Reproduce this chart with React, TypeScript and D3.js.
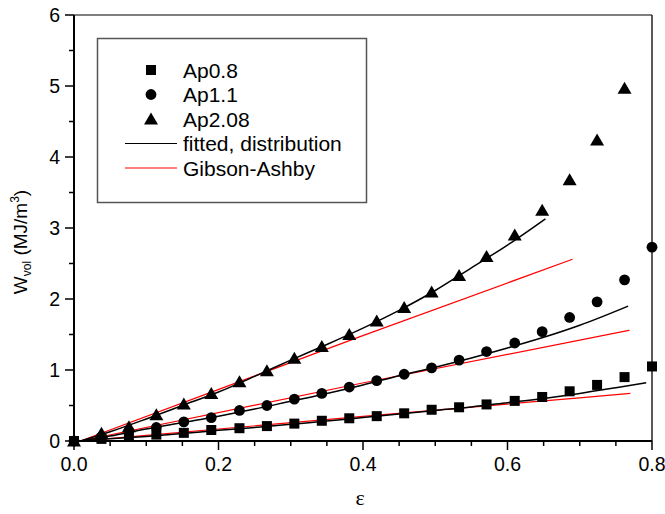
import React from "react";
import * as d3 from "d3";

// strain values of the measured points
const strain = [
  0, 0.038, 0.076, 0.114, 0.152, 0.19, 0.229, 0.267, 0.305, 0.343, 0.381,
  0.419, 0.457, 0.495, 0.533, 0.571, 0.61, 0.648, 0.686, 0.724, 0.762, 0.8,
];

// measured W_vol (MJ/m^3)
const ap08 = [
  0, 0.03, 0.06, 0.09, 0.115, 0.155, 0.18, 0.21, 0.245, 0.285, 0.32, 0.35,
  0.39, 0.44, 0.475, 0.515, 0.565, 0.62, 0.7, 0.79, 0.9, 1.05,
];
const ap11 = [
  0, 0.06, 0.14, 0.19, 0.27, 0.33, 0.43, 0.5, 0.59, 0.67, 0.76, 0.85, 0.94,
  1.03, 1.14, 1.26, 1.38, 1.54, 1.74, 1.96, 2.27, 2.73,
];
const ap208 = [
  0, 0.11, 0.2, 0.37, 0.52, 0.67, 0.835, 0.99, 1.165, 1.33, 1.5, 1.69, 1.88,
  2.1, 2.33, 2.6, 2.9, 3.25, 3.68, 4.24, 4.97,
];

// fitted, distribution curves [strain, W]
const fit08: [number, number][] = [
  [0.009, 0], [0.05, 0.03], [0.1, 0.065], [0.15, 0.105], [0.2, 0.15],
  [0.25, 0.19], [0.3, 0.235], [0.35, 0.28], [0.4, 0.33], [0.45, 0.38],
  [0.5, 0.43], [0.55, 0.48], [0.6, 0.54], [0.65, 0.6], [0.7, 0.67],
  [0.75, 0.75], [0.792, 0.82],
];
const fit11: [number, number][] = [
  [0.009, 0], [0.05, 0.07], [0.1, 0.17], [0.15, 0.26], [0.2, 0.35],
  [0.25, 0.45], [0.3, 0.56], [0.35, 0.67], [0.4, 0.79], [0.45, 0.92],
  [0.5, 1.04], [0.55, 1.17], [0.6, 1.31], [0.65, 1.46], [0.7, 1.63],
  [0.767, 1.9],
];
const fit208: [number, number][] = [
  [0.009, 0], [0.05, 0.13], [0.1, 0.31], [0.15, 0.5], [0.2, 0.69],
  [0.25, 0.91], [0.3, 1.14], [0.35, 1.36], [0.4, 1.59], [0.45, 1.84],
  [0.5, 2.12], [0.55, 2.44], [0.6, 2.76], [0.6525, 3.13],
];

// Gibson-Ashby lines
const ga08: [number, number][] = [[0.009, 0], [0.396, 0.342], [0.77, 0.67]];
const ga11: [number, number][] = [[0.009, 0], [0.396, 0.81], [0.769, 1.56]];
const ga208: [number, number][] = [[0.009, 0], [0.396, 1.47], [0.69, 2.56]];

const xTicks = [0, 0.2, 0.4, 0.6, 0.8];
const yTicks = [0, 1, 2, 3, 4, 5, 6];

const W = 665;
const H = 514;
const left = 74;
const right = 652;
const top = 15;
const bottom = 441;
const sans = "Arial, 'Liberation Sans', sans-serif";

export default function App() {
  const x = d3.scaleLinear().domain([0, 0.8]).range([left, right]);
  const y = d3.scaleLinear().domain([0, 6]).range([bottom, top]);
  const line = d3
    .line<[number, number]>()
    .x((d) => x(d[0]))
    .y((d) => y(d[1]))
    .curve(d3.curveMonotoneX);

  const xMinor = d3.range(0, 0.8001, 0.05);
  const yMinor = d3.range(0, 6.001, 0.5);

  const square = (cx: number, cy: number, k: string) => (
    <rect key={k} x={cx - 5} y={cy - 5} width={10} height={10} fill="#000" />
  );
  const circle = (cx: number, cy: number, k: string) => (
    <circle key={k} cx={cx} cy={cy} r={5.4} fill="#000" />
  );
  const tri = (cx: number, cy: number, k: string) => (
    <path
      key={k}
      d={`M${cx},${cy - 6.5}L${cx + 7},${cy + 5.5}L${cx - 7},${cy + 5.5}Z`}
      fill="#000"
    />
  );

  const legendRows = [
    { label: "Ap0.8", kind: "sq" },
    { label: "Ap1.1", kind: "ci" },
    { label: "Ap2.08", kind: "tr" },
    { label: "fitted, distribution", kind: "black" },
    { label: "Gibson-Ashby", kind: "red" },
  ];

  return (
    <svg
      width={W}
      height={H}
      style={{ position: "absolute", left: 0, top: 0, background: "#fff" }}
    >
      {/* frame */}
      <line x1={left} y1={top} x2={right} y2={top} stroke="#555" strokeWidth={1.5} />
      <line x1={right} y1={top} x2={right} y2={bottom} stroke="#222" strokeWidth={1.5} />

      {/* Gibson-Ashby */}
      {[ga08, ga11, ga208].map((d, i) => (
        <path key={"ga" + i} d={line(d) || ""} fill="none" stroke="#ff0000" strokeWidth={1.2} />
      ))}
      {/* fitted */}
      {[fit08, fit11, fit208].map((d, i) => (
        <path key={"fit" + i} d={line(d) || ""} fill="none" stroke="#000" strokeWidth={1.5} />
      ))}

      {/* points */}
      {ap08.map((v, i) => square(x(strain[i]), y(v), "s" + i))}
      {ap11.map((v, i) => circle(x(strain[i]), y(v), "c" + i))}
      {ap208.map((v, i) => tri(x(strain[i]), y(v), "t" + i))}

      {/* axes */}
      <line x1={left} y1={bottom} x2={right} y2={bottom} stroke="#000" strokeWidth={2} />
      <line x1={left} y1={top} x2={left} y2={bottom} stroke="#000" strokeWidth={2} />
      {xMinor.map((t, i) => (
        <line
          key={"xt" + i}
          x1={x(t)}
          x2={x(t)}
          y1={bottom}
          y2={bottom + (i % 4 === 0 ? 9 : 5)}
          stroke="#000"
          strokeWidth={1.5}
        />
      ))}
      {yMinor.map((t, i) => (
        <line
          key={"yt" + i}
          x1={left}
          x2={left - (i % 2 === 0 ? 9 : 5)}
          y1={y(t)}
          y2={y(t)}
          stroke="#000"
          strokeWidth={1.5}
        />
      ))}
      {xTicks.map((t) => (
        <text
          key={"xl" + t}
          x={x(t)}
          y={471}
          textAnchor="middle"
          fontFamily={sans}
          fontSize={19.5}
        >
          {t.toFixed(1)}
        </text>
      ))}
      {yTicks.map((t) => (
        <text
          key={"yl" + t}
          x={60}
          y={y(t) + 7}
          textAnchor="end"
          fontFamily={sans}
          fontSize={19.5}
        >
          {t}
        </text>
      ))}

      {/* axis titles */}
      <text
        x={360}
        y={505}
        textAnchor="middle"
        fontFamily="'Liberation Serif', 'Times New Roman', serif"
        fontSize={22}
      >
        ε
      </text>
      <text
        transform={`translate(27,242) rotate(-90)`}
        textAnchor="middle"
        fontFamily={sans}
        fontSize={19}
      >
        W<tspan fontSize={12} dy={4}>vol</tspan>
        <tspan dy={-4}> (MJ/m</tspan>
        <tspan fontSize={12} dy={-8}>3</tspan>
        <tspan dy={8}>)</tspan>
      </text>

      {/* legend */}
      <rect x={97.5} y={38.5} width={269} height={164} fill="#fff" stroke="#555" strokeWidth={1.5} />
      {legendRows.map((r, i) => {
        const cy = 70 + i * 24.5;
        let mark: React.ReactNode = null;
        if (r.kind === "sq") mark = square(151, cy, "lm" + i);
        else if (r.kind === "ci") mark = circle(151, cy, "lm" + i);
        else if (r.kind === "tr") mark = tri(151, cy, "lm" + i);
        else
          mark = (
            <line
              key={"lm" + i}
              x1={125}
              x2={177}
              y1={cy}
              y2={cy}
              stroke={r.kind === "red" ? "#ff0000" : "#000"}
              strokeWidth={1.2}
            />
          );
        return (
          <g key={"lg" + i}>
            {mark}
            <text x={183} y={cy + 7.5} fontFamily={sans} fontSize={21}>
              {r.label}
            </text>
          </g>
        );
      })}
    </svg>
  );
}
